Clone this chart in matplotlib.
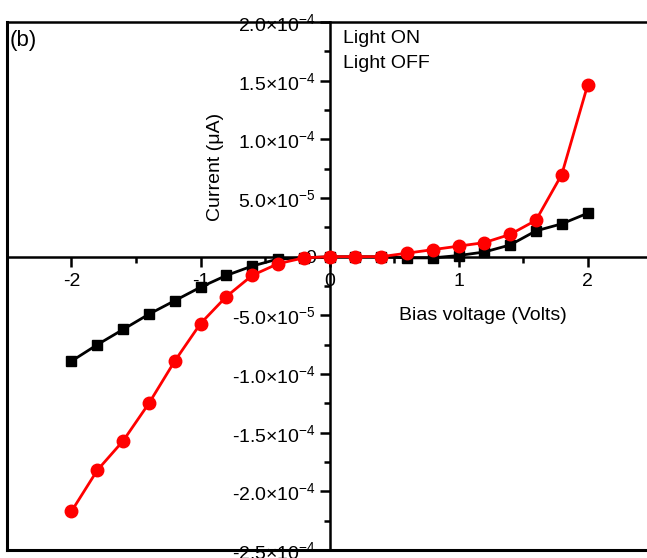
import numpy as np
import matplotlib
matplotlib.use("Agg")
import matplotlib.pyplot as plt
from matplotlib.ticker import FixedLocator, FixedFormatter, MultipleLocator

plt.rcParams['font.family'] = ['Liberation Sans', 'DejaVu Sans']
plt.rcParams['mathtext.fontset'] = 'custom'
plt.rcParams['mathtext.rm'] = 'Liberation Sans'
plt.rcParams['mathtext.it'] = 'Liberation Sans'

# bias voltage (V)
voltage = [-2.0, -1.8, -1.6, -1.4, -1.2, -1.0, -0.8, -0.6, -0.4, -0.2, 0.0,
           0.2, 0.4, 0.6, 0.8, 1.0, 1.2, 1.4, 1.6, 1.8, 2.0]

# current
light_on = [-2.17e-4, -1.82e-4, -1.57e-4, -1.25e-4, -0.89e-4, -0.57e-4, -0.34e-4,
            -0.16e-4, -0.06e-4, -0.01e-4, 0.0, 0.0, 0.0, 0.03e-4, 0.06e-4, 0.09e-4,
            0.12e-4, 0.19e-4, 0.31e-4, 0.70e-4, 1.46e-4]
light_off = [-0.89e-4, -0.75e-4, -0.62e-4, -0.49e-4, -0.375e-4, -0.26e-4, -0.16e-4,
             -0.08e-4, -0.02e-4, -0.01e-4, 0.0, 0.0, 0.0, -0.01e-4, -0.01e-4, 0.01e-4,
             0.04e-4, 0.10e-4, 0.22e-4, 0.28e-4, 0.37e-4]

y_ticks = [-2.5e-4, -2.0e-4, -1.5e-4, -1.0e-4, -5.0e-5, 0.0, 5.0e-5, 1.0e-4, 1.5e-4, 2.0e-4]
y_tick_labels = ['-2.5×10$^{-4}$', '-2.0×10$^{-4}$', '-1.5×10$^{-4}$',
                 '-1.0×10$^{-4}$', '-5.0×10$^{-5}$', '0',
                 '5.0×10$^{-5}$', '1.0×10$^{-4}$', '1.5×10$^{-4}$',
                 '2.0×10$^{-4}$']
x_ticks = [-2, -1, 0, 1, 2]
x_tick_labels = ['-2', '-1', '0', '1', '2']

fs = 14

fig = plt.figure(figsize=(6.47, 5.58), dpi=100)
ax = fig.add_axes([0.0108, 0.0143, 0.997, 0.9462])

off_line, = ax.plot(voltage, light_off, color='black', marker='s', markersize=7,
                    lw=2, label='Light OFF', zorder=3)
on_line, = ax.plot(voltage, light_on, color='red', marker='o', markersize=9,
                   lw=2, label='Light ON', zorder=4)

ax.set_xlim(-2.5, 2.5)
ax.set_ylim(-2.5e-4, 2.0e-4)

# axes crossing at the origin
ax.spines['left'].set_position(('data', 0))
ax.spines['bottom'].set_position(('data', 0))
ax.spines['right'].set_visible(False)
for s in ['left', 'bottom', 'top']:
    ax.spines[s].set_linewidth(1.8)
    ax.spines[s].set_zorder(2)

# outer frame (left and bottom sides)
ax.plot([0, 0], [0, 1], transform=ax.transAxes, color='black', lw=2.2, clip_on=False)
ax.plot([0, 1], [0, 0], transform=ax.transAxes, color='black', lw=2.2, clip_on=False)

ax.yaxis.set_major_locator(FixedLocator(y_ticks))
ax.yaxis.set_major_formatter(FixedFormatter(y_tick_labels))
ax.yaxis.set_minor_locator(MultipleLocator(2.5e-5))
ax.xaxis.set_major_locator(FixedLocator(x_ticks))
ax.xaxis.set_major_formatter(FixedFormatter(x_tick_labels))
ax.xaxis.set_minor_locator(MultipleLocator(0.5))

ax.tick_params(axis='both', which='major', direction='out', length=7, width=1.8,
               labelsize=fs, pad=3)
ax.tick_params(axis='both', which='minor', direction='out', length=4, width=1.8)
ax.tick_params(axis='x', pad=5)

ax.set_xlabel('Bias voltage (Volts)', fontsize=fs)
ax.xaxis.set_label_coords(0.737, 0.460)
ax.set_ylabel('Current (μA)', fontsize=fs)
ax.yaxis.set_label_coords(0.337, 0.725)

leg = ax.legend(handles=[on_line, off_line], loc='upper left',
                bbox_to_anchor=(0.494, 1.02), frameon=False, fontsize=fs,
                handlelength=0, handletextpad=0, labelspacing=0.4)
for h in leg.legend_handles:
    h.set_visible(False)

ax.text(0.004, 0.985, '(b)', transform=ax.transAxes, fontsize=16, va='top', ha='left')

fig.savefig('out.png', dpi=100)
